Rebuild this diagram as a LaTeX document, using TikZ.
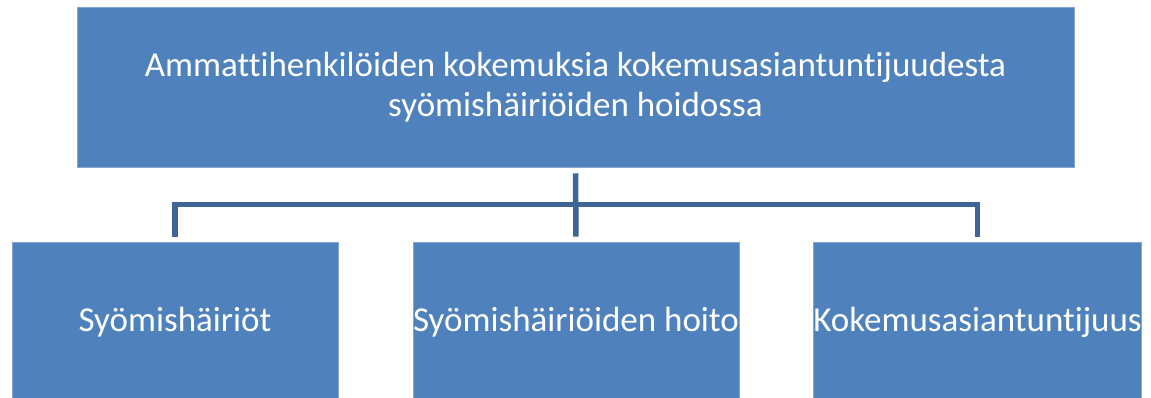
\documentclass[tikz,border=0pt]{standalone}
\usepackage{fontspec}
\setmainfont[Ligatures={NoCommon,NoContextual}]{Carlito}
\definecolor{boxblue}{RGB}{79,129,189}
\definecolor{lineblue}{RGB}{62,101,150}
\begin{document}
\begin{tikzpicture}[x=1pt,y=1pt,
  box/.style={fill=boxblue, draw=boxblue!70!white, line width=0.6pt, text=white, font=\fontsize{35}{40}\selectfont, align=center, inner sep=0pt},
  conn/.style={draw=lineblue, line width=5.5pt}]
\useasboundingbox (0,0) rectangle (1151,398);
\node[box, minimum width=997pt, minimum height=160pt] (top) at (575.5,311) {Ammattihenkilöiden kokemuksia kokemusasiantuntijuudesta\\syömishäiriöiden hoidossa};
\node[box, minimum width=326pt, minimum height=160pt] (b1) at (175,76) {Syömishäiriöt};
\node[box, minimum width=326pt, minimum height=160pt] (b2) at (576,76) {Syömishäiriöiden hoito};
\node[box, minimum width=326pt, minimum height=160pt] (b3) at (977.5,76) {Kokemusasiantuntijuus};
\coordinate (bus) at (576,193.5);
\draw[conn, shorten <=6pt, shorten >=5pt] (top.south) -- (b2.north);
\draw[conn, shorten <=5pt, shorten >=5pt] (b1.north) -- (b1.north |- bus) -- (b3.north |- bus) -- (b3.north);
\end{tikzpicture}
\end{document}
